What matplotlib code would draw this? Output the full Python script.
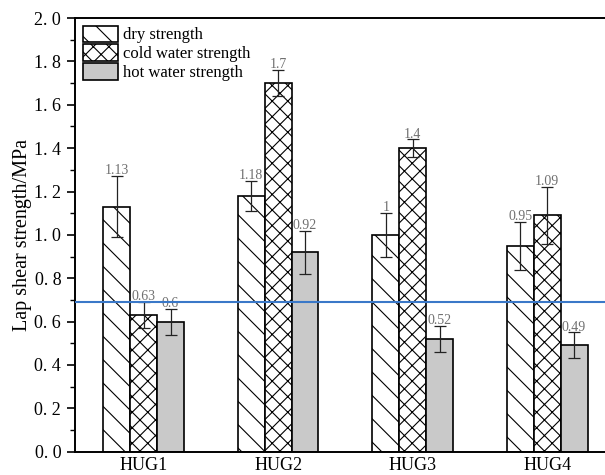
import matplotlib.pyplot as plt
import numpy as np

# Rendered at 140 dpi so the hatch spacing comes out finer-grained;
# sizes below are given as "100-dpi points" and scaled by K.
DPI = 140
K = 100 / DPI

plt.rcParams["font.family"] = ["Liberation Serif", "DejaVu Serif"]
plt.rcParams["hatch.linewidth"] = 0.8 * K

groups = ["HUG1", "HUG2", "HUG3", "HUG4"]
series = ["dry strength", "cold water strength", "hot water strength"]
dry = [1.13, 1.18, 1.0, 0.95]
cold = [0.63, 1.7, 1.4, 1.09]
hot = [0.6, 0.92, 0.52, 0.49]
dry_err = [0.14, 0.07, 0.10, 0.11]
cold_err = [0.06, 0.06, 0.04, 0.13]
hot_err = [0.06, 0.10, 0.06, 0.06]
value_labels = [["1.13", "1.18", "1", "0.95"],
                ["0.63", "1.7", "1.4", "1.09"],
                ["0.6", "0.92", "0.52", "0.49"]]
ref_level = 0.69

fig = plt.figure(figsize=(605 / DPI, 475 / DPI), dpi=DPI)
ax = fig.add_axes([0.124, 0.049, 0.876, 0.913])

x = np.arange(1, len(groups) + 1)
w = 0.2
styles = [dict(facecolor="white", hatch="\\\\"),
          dict(facecolor="white", hatch="xxx"),
          dict(facecolor="#c9c9c9", hatch=None)]
values = [dry, cold, hot]
errors = [dry_err, cold_err, hot_err]

for k, (vals, errs, st, name) in enumerate(zip(values, errors, styles, series)):
    pos = x + (k - 1) * w
    ax.bar(pos, vals, width=w, edgecolor="black", linewidth=1.2 * K,
           label=name, zorder=2, **st)
    ax.errorbar(pos, vals, yerr=errs, fmt="none", ecolor="#222222",
                elinewidth=0.9 * K, capsize=4 * K, capthick=0.9 * K, zorder=3)
    for p, v, e, t in zip(pos, vals, errs, value_labels[k]):
        ax.text(p, v + e - 0.005, t, ha="center", va="bottom",
                fontsize=10 * K, color="#707070")

ax.axhline(ref_level, color="#3a78c8", linewidth=1.5 * K, zorder=4)

ax.set_xlim(0.49, 4.43)
ax.set_ylim(0, 2.0)
ax.set_xticks(x)
ax.set_xticklabels(groups, fontsize=13 * K)
ax.tick_params(axis="x", length=0, pad=4 * K)
yt = np.arange(0, 2.01, 0.2)
ax.set_yticks(yt)
ax.set_yticklabels([f"{v:.1f}".replace(".", ". ") for v in yt], fontsize=13 * K)
ax.set_yticks(np.arange(0.1, 2.0, 0.2), minor=True)
ax.tick_params(axis="y", which="major", direction="out", length=6 * K,
               width=1.2 * K, pad=4 * K)
ax.tick_params(axis="y", which="minor", direction="out", length=3.5 * K,
               width=1.0 * K)
ax.set_ylabel("Lap shear strength/MPa", fontsize=14.5 * K, labelpad=1)

for side in ["left", "bottom", "top"]:
    ax.spines[side].set_linewidth(1.4 * K)
ax.spines["right"].set_visible(False)

ax.legend(loc="upper left", frameon=False, fontsize=12 * K,
          handlelength=2.15, handleheight=1.15, handletextpad=0.3,
          labelspacing=0.05, borderaxespad=0.2, borderpad=0.25)

plt.savefig("out.png", dpi=DPI)
